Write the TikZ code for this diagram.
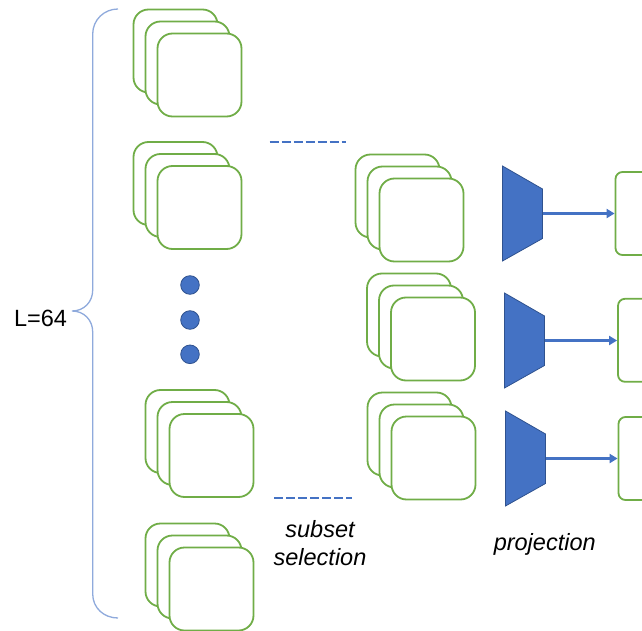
\documentclass[tikz,border=0pt]{standalone}
\usepackage{fontspec}
\setmainfont{Liberation Sans}
\usepackage{tikz}
\usetikzlibrary{arrows.meta,positioning}
\definecolor{featgreen}{RGB}{112,173,71}
\definecolor{projblue}{RGB}{68,114,196}
\definecolor{projedge}{RGB}{47,82,143}
\definecolor{bracecol}{RGB}{143,170,220}

\begin{document}
\begin{tikzpicture}[x=1pt,y=-1pt,
	frame/.style={draw=featgreen,fill=white,line width=1.8pt,rounded corners=15pt,
		minimum width=84pt,minimum height=83pt,inner sep=0pt},
	outbox/.style={draw=featgreen,fill=white,line width=1.8pt,rounded corners=7pt,
		minimum width=84pt,minimum height=83pt,inner sep=0pt},
	dot/.style={circle,draw=projedge,fill=projblue,line width=0.8pt,minimum size=18.6pt,inner sep=0pt},
	gapline/.style={draw=projblue,line width=2.8pt,dash pattern=on 9pt off 3pt},
	arr/.style={-{Triangle[length=8pt,width=9pt]},draw=projblue,line width=2.8pt},
	lbl/.style={font=\fontsize{23.5}{27.7}\selectfont,inner sep=0pt}]
	\useasboundingbox (0,0) rectangle (642,631);
	\clip (0,0) rectangle (642,631);
	% all layers, then the chosen subset
	\foreach \n/\x/\y in {a/133.5/9.5, b/133.5/142, c/145.5/390, d/145.5/523.5,
		m/355.5/154.5, n/367/273.5, o/367.5/392.5}{
		\foreach \k in {0,1,2}
			\node[frame] (\n\k) at (\x+42+12*\k,\y+41.5+12*\k) {};
	}
	\node[dot] (dot1) at (190,285) {};
	\node[dot] (dot2) at (190,320) {};
	\node[dot] (dot3) at (190,354.3) {};
	\coordinate (g1) at (269.7,142);
	\coordinate (g2) at (345.7,142);
	\coordinate (g3) at (274,498);
	\coordinate (g4) at (351.7,498);
	\path[gapline] (g1) -- (g2);
	\path[gapline] (g3) -- (g4);
	% projection heads
	\foreach \i/\x/\y in {1/502.5/213.5, 2/504.5/340.5, 3/505.5/458.5}{
		\filldraw[fill=projblue,draw=projedge,line width=0.8pt]
			(\x,\y-47.5) -- (\x+40,\y-24.5) -- (\x+40,\y+25) -- (\x,\y+47.5) -- cycle;
		\coordinate (t\i) at (\x+40,\y);
	}
	\node[outbox] (r1) at (615.5+42,213.5) {};
	\node[outbox] (r2) at (618+42,340.3) {};
	\node[outbox] (r3) at (618.5+42,458.5) {};
	\draw[arr] (t1) -- (t1 -| r1.west);
	\draw[arr] (t2) -- (t2 -| r2.west);
	\draw[arr] (t3) -- (t3 -| r3.west);
	% brace
	\draw[bracecol,line width=1.3pt] (118,9) .. controls (104,9) and (92.7,20) .. (92.7,34)
		-- (92.7,290) .. controls (92.7,302) and (84,311) .. (72,311)
		.. controls (84,311) and (92.7,320) .. (92.7,332)
		-- (92.7,594) .. controls (92.7,608) and (104,618) .. (118,618);
	\node[lbl] (len) at (40.5,318.5) {L=64};
	\node[lbl,align=center,anchor=base] (subset) at (320,565) {\itshape subset\\\itshape selection};
	\node[lbl,anchor=base] (proj) at (544.7,550) {\itshape projection};
\end{tikzpicture}
\end{document}
